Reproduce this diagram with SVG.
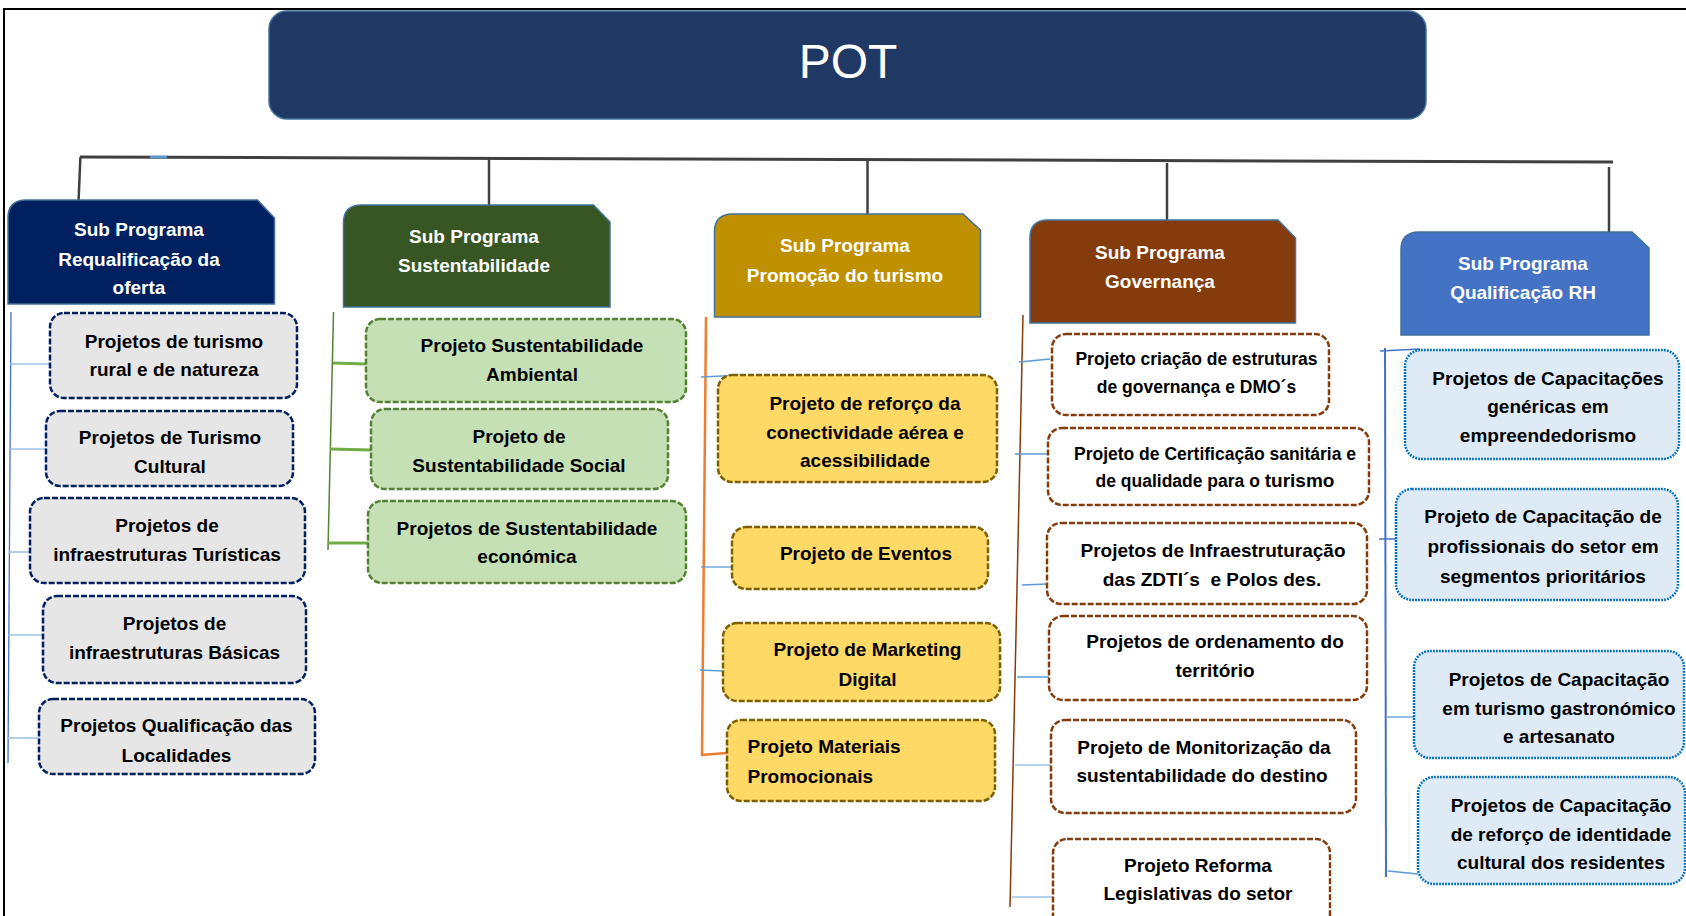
<svg xmlns="http://www.w3.org/2000/svg" width="1686" height="916" viewBox="0 0 1686 916">
<style>
.t{font-family:"Liberation Sans",Arial,sans-serif;font-weight:bold;font-size:19px;fill:#000;text-anchor:middle}
.w{fill:#fff}
.s{font-size:17.5px}
.sub{stroke:#41719C;stroke-width:1.5}
.b1{fill:#E7E6E6;stroke:#002060;stroke-width:2.5;stroke-dasharray:6 2}
.b2{fill:#C5E0B4;stroke:#548235;stroke-width:2.5;stroke-dasharray:6 2}
.b3{fill:#FFD966;stroke:#7F6000;stroke-width:2.5;stroke-dasharray:6 2}
.b4{fill:#FFFFFF;stroke:#843C0C;stroke-width:2.5;stroke-dasharray:6 2}
.b5{fill:#DEEBF7;stroke:#0070C0;stroke-width:2.5;stroke-dasharray:1.8 1.2}
.trunk{stroke:#404040;stroke-width:3;fill:none}
.drop{stroke:#404040;stroke-width:2.5;fill:none}
.lb{stroke:#5B9BD5;stroke-width:1.3;fill:none}
.lb2{stroke:#9DC3E6;stroke-width:1.6;fill:none}
</style>
<rect width="1686" height="916" fill="#fff"/>
<g id="frame" fill="none" stroke="#000" stroke-width="2">
<line x1="4" y1="9" x2="1686" y2="9"/>
<line x1="4" y1="8" x2="4" y2="916"/>
</g>
<g id="connectors">
<line class="trunk" x1="80" y1="157" x2="1613" y2="162"/>
<line x1="150" y1="157" x2="167" y2="157" stroke="#5B9BD5" stroke-width="2.5"/>
<line class="drop" x1="80.4" y1="157" x2="78.6" y2="200"/>
<line class="drop" x1="489" y1="159" x2="489" y2="205"/>
<line class="drop" x1="867.5" y1="160" x2="867.5" y2="214"/>
<line class="drop" x1="1167" y1="163" x2="1167" y2="220"/>
<line class="drop" x1="1609" y1="167" x2="1609" y2="232"/>
<!-- col1 -->
<line x1="11" y1="312" x2="8" y2="763" stroke="#4472C4" stroke-width="1.3"/>
<line class="lb2" x1="10" y1="364" x2="50" y2="364"/>
<line class="lb2" x1="10" y1="449" x2="46" y2="449"/>
<line class="lb2" x1="9" y1="552" x2="33" y2="552"/>
<line class="lb2" x1="8" y1="635" x2="43" y2="635"/>
<line class="lb2" x1="8" y1="738" x2="39" y2="738"/>
<!-- col2 -->
<line x1="333.5" y1="312" x2="328" y2="550" stroke="#548235" stroke-width="1.5"/>
<line x1="333" y1="363" x2="366" y2="364" stroke="#70AD47" stroke-width="3"/>
<line x1="330" y1="449" x2="371" y2="450" stroke="#70AD47" stroke-width="3"/>
<line x1="328" y1="543" x2="368" y2="543" stroke="#70AD47" stroke-width="3"/>
<!-- col3 -->
<line x1="706" y1="317" x2="702" y2="755" stroke="#ED7D31" stroke-width="2.5"/>
<line class="lb" x1="701" y1="377" x2="743" y2="375"/>
<line class="lb" x1="701" y1="567" x2="732" y2="567"/>
<line class="lb" x1="700" y1="670" x2="723" y2="671"/>
<line x1="701" y1="755" x2="727" y2="753" stroke="#ED7D31" stroke-width="2.5"/>
<!-- col4 -->
<line x1="1023" y1="315" x2="1010" y2="907" stroke="#843C0C" stroke-width="1.5"/>
<line class="lb" x1="1019" y1="362" x2="1050" y2="359"/>
<line class="lb" x1="1015" y1="454" x2="1048" y2="454"/>
<line class="lb" x1="1022" y1="585" x2="1047" y2="584"/>
<line class="lb" x1="1017" y1="677" x2="1050" y2="677"/>
<line class="lb2" x1="1015" y1="765" x2="1051" y2="765"/>
<line class="lb2" x1="1012" y1="897" x2="1053" y2="897"/>
<!-- col5 -->
<line x1="1385" y1="348" x2="1386" y2="877" stroke="#4472C4" stroke-width="2"/>
<line x1="1380" y1="351" x2="1420" y2="349" stroke="#4472C4" stroke-width="1.5"/>
<line x1="1379" y1="539" x2="1397" y2="539" stroke="#4472C4" stroke-width="1.5"/>
<line class="lb" x1="1387" y1="717" x2="1415" y2="717"/>
<line class="lb" x1="1388" y1="871" x2="1418" y2="874"/>
</g>
<g id="pot">
<rect x="269" y="11" width="1157" height="108" rx="18" fill="#203864" stroke="#41719C" stroke-width="1.5"/>
<text x="848" y="78" font-family="Liberation Sans, Arial, sans-serif" font-size="48" fill="#fff" text-anchor="middle">POT</text>
</g>
<g id="sub1">
<path class="sub" fill="#002060" d="M8,218 Q8,200 26,200 L257.5,200 L274.5,218 L274.5,304 L8,304 Z"/>
<text class="t w" x="139" y="236">Sub Programa</text>
<text class="t w" x="139" y="265.5">Requalificação da</text>
<text class="t w" x="139" y="294">oferta</text>
</g>
<g id="sub2">
<path class="sub" fill="#375623" d="M343.5,223 Q343.5,205 361.5,205 L593.5,205 L610,222 L610,307 L343.5,307 Z"/>
<text class="t w" x="474" y="242.5">Sub Programa</text>
<text class="t w" x="474" y="271.5">Sustentabilidade</text>
</g>
<g id="sub3">
<path class="sub" fill="#BF9000" d="M714.5,232 Q714.5,214 732.5,214 L963,214 L980.5,230 L980.5,317 L714.5,317 Z"/>
<text class="t w" x="845" y="252">Sub Programa</text>
<text class="t w" x="845" y="281.5">Promoção do turismo</text>
</g>
<g id="sub4">
<path class="sub" fill="#843C0C" d="M1030,238 Q1030,220 1048,220 L1278,220 L1295.5,238 L1295.5,323 L1030,323 Z"/>
<text class="t w" x="1160" y="258.5">Sub Programa</text>
<text class="t w" x="1160" y="287.5">Governança</text>
</g>
<g id="sub5">
<path class="sub" fill="#4472C4" d="M1401,250 Q1401,232 1419,232 L1632,232 L1649,248 L1649,335 L1401,335 Z"/>
<text class="t w" x="1523" y="270">Sub Programa</text>
<text class="t w" x="1523" y="299">Qualificação RH</text>
</g>
<g id="p-rural">
<rect class="b1" x="50" y="313" width="247" height="85" rx="14"/>
<text class="t" x="174" y="347.5">Projetos de turismo</text>
<text class="t" x="174" y="376">rural e de natureza</text>
</g>
<g id="p-cultural">
<rect class="b1" x="46" y="411" width="247" height="75" rx="14"/>
<text class="t" x="170" y="444">Projetos de Turismo</text>
<text class="t" x="170" y="473">Cultural</text>
</g>
<g id="p-infra-turisticas">
<rect class="b1" x="30" y="498" width="275" height="85" rx="14"/>
<text class="t" x="167" y="532">Projetos de</text>
<text class="t" x="167" y="560.5">infraestruturas Turísticas</text>
</g>
<g id="p-infra-basicas">
<rect class="b1" x="43" y="596" width="263" height="87" rx="14"/>
<text class="t" x="174.5" y="630">Projetos de</text>
<text class="t" x="174.5" y="659">infraestruturas Básicas</text>
</g>
<g id="p-localidades">
<rect class="b1" x="39" y="699" width="276" height="75" rx="14"/>
<text class="t" x="176.5" y="732">Projetos Qualificação das</text>
<text class="t" x="176.5" y="762">Localidades</text>
</g>
<g id="p-ambiental">
<rect class="b2" x="366" y="319" width="320" height="83" rx="14"/>
<text class="t" x="532" y="352">Projeto Sustentabilidade</text>
<text class="t" x="532" y="381">Ambiental</text>
</g>
<g id="p-social">
<rect class="b2" x="371" y="409" width="297" height="80" rx="14"/>
<text class="t" x="519" y="443">Projeto de</text>
<text class="t" x="519" y="471.5">Sustentabilidade Social</text>
</g>
<g id="p-economica">
<rect class="b2" x="368" y="501" width="318" height="82" rx="14"/>
<text class="t" x="527" y="535">Projetos de Sustentabilidade</text>
<text class="t" x="527" y="563">económica</text>
</g>
<g id="p-conectividade">
<rect class="b3" x="718" y="375" width="279" height="107" rx="14"/>
<text class="t" x="865" y="410">Projeto de reforço da</text>
<text class="t" x="865" y="438.5">conectividade aérea e</text>
<text class="t" x="865" y="467">acessibilidade</text>
</g>
<g id="p-eventos">
<rect class="b3" x="732" y="527" width="256" height="62" rx="14"/>
<text class="t" x="866" y="560">Projeto de Eventos</text>
</g>
<g id="p-marketing">
<rect class="b3" x="723" y="623" width="277" height="78" rx="14"/>
<text class="t" x="867.5" y="656">Projeto de Marketing</text>
<text class="t" x="867.5" y="685.5">Digital</text>
</g>
<g id="p-materiais">
<rect class="b3" x="727" y="720" width="268" height="81" rx="14"/>
<text class="t" x="747.5" y="753" style="text-anchor:start">Projeto Materiais</text>
<text class="t" x="747.5" y="783" style="text-anchor:start">Promocionais</text>
</g>
<g id="p-governanca">
<rect class="b4" x="1052" y="334" width="277" height="81" rx="14"/>
<text class="t s" x="1196.5" y="365">Projeto criação de estruturas</text>
<text class="t s" x="1196.5" y="393">de governança e DMO´s</text>
</g>
<g id="p-certificacao">
<rect class="b4" x="1048" y="428" width="321" height="77" rx="14"/>
<text class="t s" x="1215" y="460">Projeto de Certificação sanitária e</text>
<text class="t s" x="1215" y="487">de qualidade para o <tspan font-size="19">turismo</tspan></text>
</g>
<g id="p-zdti">
<rect class="b4" x="1047" y="523" width="320" height="81" rx="14"/>
<text class="t" x="1213" y="557">Projetos de Infraestruturação</text>
<text class="t" x="1212" y="586" xml:space="preserve">das ZDTI´s  e Polos des.</text>
</g>
<g id="p-ordenamento">
<rect class="b4" x="1049" y="616" width="318" height="84" rx="14"/>
<text class="t" x="1215" y="648">Projetos de ordenamento do</text>
<text class="t" x="1215" y="677">território</text>
</g>
<g id="p-monitorizacao">
<rect class="b4" x="1051" y="720" width="305" height="93" rx="14"/>
<text class="t" x="1204" y="754">Projeto de Monitorização da</text>
<text class="t" x="1202" y="782">sustentabilidade do destino</text>
</g>
<g id="p-legislativas">
<rect class="b4" x="1053" y="839" width="277" height="95" rx="14"/>
<text class="t" x="1198" y="872">Projeto Reforma</text>
<text class="t" x="1198" y="900">Legislativas do setor</text>
</g>
<g id="p-empreendedorismo">
<rect class="b5" x="1405" y="350" width="274" height="109" rx="16"/>
<text class="t" x="1548" y="385">Projetos de Capacitações</text>
<text class="t" x="1548" y="413">genéricas em</text>
<text class="t" x="1548" y="442">empreendedorismo</text>
</g>
<g id="p-profissionais">
<rect class="b5" x="1396" y="489" width="282" height="111" rx="16"/>
<text class="t" x="1543" y="523">Projeto de Capacitação de</text>
<text class="t" x="1543" y="553">profissionais do setor em</text>
<text class="t" x="1543" y="583">segmentos prioritários</text>
</g>
<g id="p-gastronomico">
<rect class="b5" x="1414" y="651" width="270" height="107" rx="16"/>
<text class="t" x="1559" y="686">Projetos de Capacitação</text>
<text class="t" x="1559" y="715">em turismo gastronómico</text>
<text class="t" x="1559" y="743">e artesanato</text>
</g>
<g id="p-identidade">
<rect class="b5" x="1418" y="777" width="267" height="107" rx="16"/>
<text class="t" x="1561" y="812">Projetos de Capacitação</text>
<text class="t" x="1561" y="841">de reforço de identidade</text>
<text class="t" x="1561" y="869">cultural dos residentes</text>
</g>
</svg>
